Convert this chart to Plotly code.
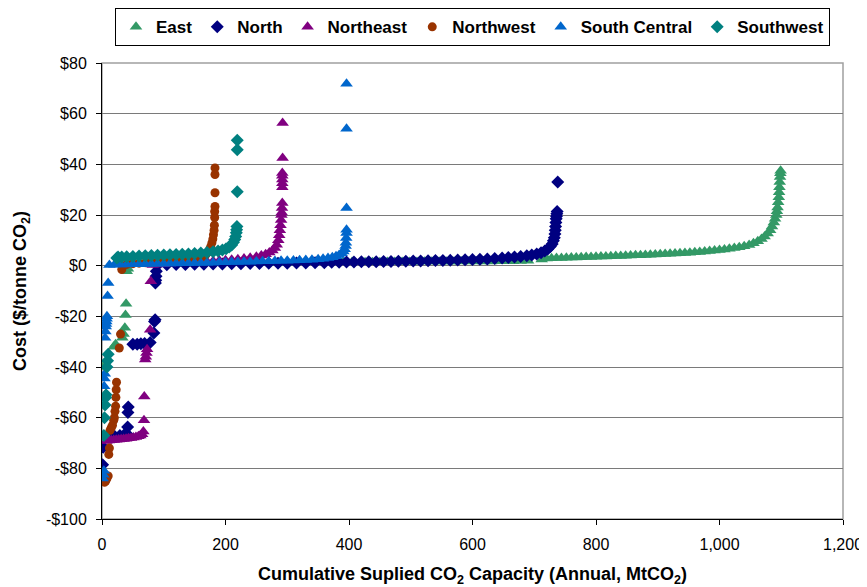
import plotly.graph_objects as go

# ---------------- data ----------------
series_names = ["East", "North", "Northeast", "Northwest", "South Central", "Southwest"]

east_x = [2, 5, 19, 22, 33, 35, 37, 38, 39, 40, 42,
          45, 60, 75, 90, 105, 120, 135, 150, 165, 180, 195, 210, 225, 240, 255, 270, 285, 300,
          315, 330, 345, 360, 375, 390, 405, 426, 438, 450, 462, 474, 486, 498, 510, 522, 534,
          546, 558, 570, 582, 594, 606, 618, 630, 642, 654, 666, 678, 690,
          712, 720, 728, 736, 744, 752, 760, 768, 776, 784, 792, 800, 808, 816, 824, 832, 840,
          848, 856, 864, 872, 880, 888, 896, 904, 912, 920, 928, 936, 944, 952, 960, 968, 976,
          984, 992, 1000, 1008, 1016, 1024, 1032, 1040, 1048, 1055, 1062, 1068, 1073, 1078,
          1082, 1085, 1088, 1090, 1092, 1093, 1094, 1095, 1096, 1096.5, 1097, 1097.5, 1098,
          1098.5, 1099]
east_y = [-40, -39, -32, -31, -28.5, -27, -24.5, -19.5, -15, -2.2, -1.2,
          0.6, 0.7, 0.7, 0.8, 0.8, 0.9, 0.9, 0.9, 1.0, 1.0, 1.0, 1.1, 1.1, 1.1, 1.2, 1.2, 1.2, 1.2,
          1.3, 1.3, 1.3, 1.3, 1.4, 1.4, 1.4, 1.3, 1.3, 1.3, 1.4, 1.4, 1.4, 1.4, 1.4, 1.5, 1.5,
          1.5, 1.5, 1.5, 1.6, 1.6, 1.6, 1.6, 1.6, 1.7, 1.7, 1.7, 1.8, 1.9,
          2.4, 2.8, 2.9, 3.0, 3.0, 3.1, 3.2, 3.2, 3.3, 3.4, 3.4, 3.5, 3.6, 3.6, 3.7, 3.8, 3.8,
          3.9, 4.0, 4.1, 4.1, 4.2, 4.3, 4.4, 4.5, 4.6, 4.7, 4.8, 4.9, 5.0, 5.1, 5.3, 5.4, 5.6,
          5.8, 6.0, 6.2, 6.4, 6.7, 7.0, 7.3, 7.7, 8.2, 8.8, 9.6, 10.5, 11.5, 12.7,
          14.0, 15.5, 17.0, 18.5, 20.0, 21.5, 23.0, 25.0, 27.0, 29.0, 31.0, 33.0, 35.0,
          36.5, 37.5]

north_x = [1, 2, 12, 20, 29, 36, 41, 41.5, 42, 42.5, 50, 57, 63, 69, 78, 84, 85, 86, 86.5, 87, 87.5, 88,
           90, 105, 120, 135, 150, 165, 180, 195, 210, 225, 240, 255, 270, 285, 300, 315, 330, 345,
           360, 372, 384, 396, 408, 420, 432, 444, 456, 468, 480, 492, 504, 516, 528, 540, 552, 564,
           576, 588, 600, 612, 624, 636, 648, 658, 668, 678, 688, 696, 704, 711, 717, 722, 726, 729,
           731, 732.5, 733.5, 734, 734.5, 735, 735.5, 736, 736.5, 737, 738]
north_y = [-78.6, -71.7, -67.4, -67.2, -67.0, -66.7, -66.5, -63.7, -58.0, -55.8, -31.0, -31.0, -30.8,
           -30.7, -30.3, -26.6, -22.0, -21.3, -6.8, -5.8, -4.2, -2.2,
           0.3, 0.4, 0.5, 0.5, 0.6, 0.6, 0.7, 0.7, 0.8, 0.8, 0.9, 0.9, 1.0, 1.0, 1.0, 1.1, 1.1, 1.2,
           1.2, 1.3, 1.3, 1.4, 1.4, 1.5, 1.5, 1.5, 1.6, 1.6, 1.7, 1.7, 1.8, 1.8, 1.9, 2.0, 2.0, 2.1,
           2.2, 2.3, 2.4, 2.5, 2.6, 2.8, 3.0, 3.2, 3.4, 3.6, 3.9, 4.2, 4.6, 5.1, 5.8, 6.6, 7.6, 8.6,
           9.8, 11.0, 12.5, 14.0, 15.5, 17.0, 18.5, 19.5, 20.5, 21.4, 33.0]

northeast_x = [7, 11, 15, 19, 23, 27, 31, 35, 39, 43, 47, 51, 55, 59, 62, 65, 67, 68, 68.5,
               70, 71, 72, 73, 78, 79,
               82, 90, 100, 110, 120, 130, 140, 150, 160, 170, 180, 190, 200, 210, 220, 230, 240,
               250, 258, 265, 271, 276, 280, 283, 285.5, 287, 288, 289, 290, 290.5, 291, 291.5,
               292, 292, 292, 292, 292, 292, 292.5, 292.5]
northeast_y = [-69.2, -69.0, -68.9, -68.8, -68.7, -68.6, -68.5, -68.4, -68.3, -68.1, -68.0, -67.8,
               -67.6, -67.3, -67.0, -66.5, -65.5, -61.0, -51.6,
               -37.0, -36.0, -34.5, -33.0, -25.3, -6.2,
               0.3, 0.5, 0.7, 0.9, 1.0, 1.1, 1.2, 1.3, 1.5, 1.6, 1.8, 2.0, 2.1, 2.3, 2.5, 2.8, 3.1,
               3.5, 4.0, 4.5, 5.2, 6.0, 7.0, 8.3, 10.0, 12.0, 14.0, 16.0, 18.0, 20.0, 21.0, 22.8,
               24.7, 31.0, 32.5, 34.0, 35.5, 36.6, 42.5, 56.3]

northwest_x = [4, 6, 8, 10, 11, 12, 13, 15, 17, 19, 20, 21, 22, 22.5, 23, 23.5, 28, 30, 32,
               40, 50, 60, 70, 80, 90, 100, 110, 120, 130, 140, 150, 158, 164, 168, 171, 174, 176,
               178, 179.5, 180.5, 181.5, 182, 182.5, 182.5, 183, 183, 183, 183]
northwest_y = [-85.5, -85.0, -84.0, -83.0, -74.5, -72.0, -65.0, -64.0, -63.0, -61.0, -60.0, -57.5,
               -55.5, -52.0, -49.0, -46.0, -32.5, -27.0, -1.5,
               0.5, 0.8, 1.0, 1.2, 1.4, 1.6, 1.8, 2.0, 2.2, 2.4, 2.6, 2.9, 3.0, 3.6, 4.3, 5.2, 6.3, 7.5,
               9.0, 10.5, 12.2, 14.0, 16.0, 19.0, 21.4, 23.4, 28.8, 36.0, 38.6]

southcentral_x = [1, 2, 3, 3.5, 4, 4.5, 5, 5.5, 6, 6.5, 7, 7.5, 8, 9, 10,
                  12, 20, 30, 40, 50, 60, 70, 80, 90, 100, 110, 120, 130, 140, 150, 160, 170, 180,
                  190, 200, 210, 220, 230, 240, 250, 260, 270, 280, 290, 300, 310, 320, 330, 340,
                  350, 358, 366, 373, 379, 384, 388, 391, 393, 394.5, 395, 395.5, 396, 396, 396,
                  396, 396]
southcentral_y = [-84.0, -82.5, -81.0, -47.6, -44.5, -42.7, -28.5, -26.0, -24.0, -23.0, -22.0, -21.0,
                  -20.0, -12.0, -6.8,
                  0.3, 0.4, 0.5, 0.5, 0.6, 0.6, 0.7, 0.7, 0.8, 0.8, 0.9, 0.9, 1.0, 1.0, 1.1, 1.1, 1.2,
                  1.2, 1.3, 1.3, 1.4, 1.4, 1.5, 1.5, 1.6, 1.7, 1.7, 1.8, 1.9, 1.9, 2.0, 2.1, 2.2, 2.3,
                  2.5, 2.7, 3.0, 3.3, 3.7, 4.2, 4.9, 5.6, 6.5, 7.8, 9.0, 10.9, 12.9, 14.2, 22.8,
                  54.0, 71.8]

southwest_x = [3, 4, 5, 6, 6.5, 8, 9, 10,
               24, 26, 32, 40, 50, 60, 70, 80, 90, 100, 110, 120, 130, 140, 150, 160, 170, 180,
               188, 195, 201, 206, 210, 213, 215, 216.5, 217.5, 218, 218.5, 219, 219, 219]
southwest_y = [-67.0, -60.0, -55.0, -52.0, -51.0, -40.0, -37.5, -35.0,
               3.0, 3.4, 3.4, 3.5, 3.6, 3.8, 3.9, 4.0, 4.1, 4.2, 4.3, 4.4, 4.5, 4.6, 4.8, 5.0, 5.2,
               5.5, 5.8, 6.2, 6.7, 7.4, 8.2, 9.2, 10.3, 11.5, 13.0, 14.2, 15.5, 29.2, 45.8, 49.5]

x_tick_vals = [0, 200, 400, 600, 800, 1000, 1200]
x_tick_text = ["0", "200", "400", "600", "800", "1,000", "1,200"]
y_tick_vals = [80, 60, 40, 20, 0, -20, -40, -60, -80, -100]
y_tick_text = ["$80", "$60", "$40", "$20", "$0", "-$20", "-$40", "-$60", "-$80", "-$100"]

# ---------------- styling ----------------
series_data = [
    (east_x, east_y, "#339966", "triangle-up", 11),
    (north_x, north_y, "#000080", "diamond", 10),
    (northeast_x, northeast_y, "#800080", "triangle-up", 11),
    (northwest_x, northwest_y, "#993300", "circle", 9),
    (southcentral_x, southcentral_y, "#0066CC", "triangle-up", 11),
    (southwest_x, southwest_y, "#008080", "diamond", 10),
]

FONT = "Liberation Sans, Arial, sans-serif"

fig = go.Figure()
for name, (xs, ys, color, symbol, size) in zip(series_names, series_data):
    fig.add_trace(go.Scatter(
        x=xs, y=ys, mode="markers", name=name,
        marker=dict(color=color, symbol=symbol, size=size, line=dict(width=0)),
    ))

fig.update_layout(
    width=859, height=579,
    margin=dict(l=94, r=24, t=55, b=68, autoexpand=False),
    paper_bgcolor="white", plot_bgcolor="white",
    font=dict(family=FONT, color="black", size=16),
    showlegend=True,
    legend=dict(
        orientation="h", x=0.5, xanchor="center", y=1.12, yanchor="top",
        bordercolor="black", borderwidth=1,
        font=dict(family=FONT, size=17, color="black", weight="bold"),
        itemwidth=30, tracegroupgap=0,
    ),
    xaxis=dict(
        range=[0, 1200], tickvals=x_tick_vals, ticktext=x_tick_text,
        showgrid=False, zeroline=False,
        showline=True, linecolor="black", linewidth=1,
        ticks="outside", ticklen=5, tickcolor="black",
        tickfont=dict(size=16), ticklabelstandoff=6, ticklabeloverflow="allow",
        title=dict(text="Cumulative Suplied CO<sub>2</sub> Capacity (Annual, MtCO<sub>2</sub>)",
                   font=dict(size=18, weight="bold"), standoff=16),
    ),
    yaxis=dict(
        range=[-100, 80], tickvals=y_tick_vals, ticktext=y_tick_text,
        showgrid=True, gridcolor="#7a7a7a", gridwidth=1, zeroline=False,
        showline=True, linecolor="black", linewidth=1,
        ticks="outside", ticklen=5, tickcolor="black",
        tickfont=dict(size=16), ticklabelstandoff=6,
        title=dict(text="Cost ($/tonne CO<sub>2</sub>)",
                   font=dict(size=18, weight="bold"), standoff=14),
    ),
    shapes=[dict(type="rect", xref="paper", yref="paper", x0=0, x1=1, y0=0, y1=1,
                 line=dict(color="#A0A0A0", width=1.5), layer="below")],
)

fig.write_html("out.html")
